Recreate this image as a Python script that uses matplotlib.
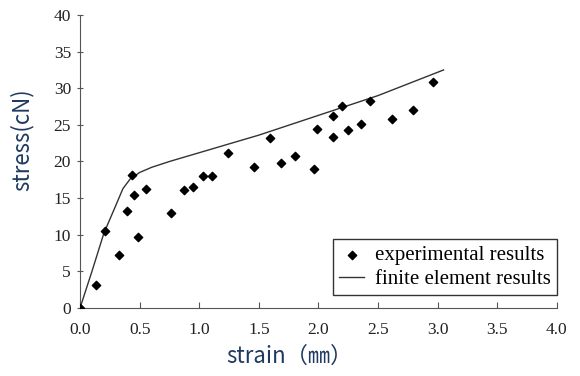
import matplotlib
matplotlib.use('Agg')
import matplotlib.pyplot as plt

# experimental results
exp_strain = [0.0, 0.13, 0.21, 0.33, 0.39, 0.44, 0.45, 0.49, 0.55, 0.76, 0.87, 0.945,
              1.03, 1.11, 1.24, 1.46, 1.59, 1.69, 1.80, 1.96, 1.99, 2.12, 2.12, 2.20,
              2.245, 2.36, 2.43, 2.62, 2.79, 2.96]
exp_stress = [0.0, 3.1, 10.5, 7.2, 13.2, 18.2, 15.4, 9.7, 16.2, 13.0, 16.1, 16.5,
              18.0, 18.0, 21.2, 19.2, 23.2, 19.75, 20.8, 19.0, 24.5, 26.2, 23.3, 27.6,
              24.3, 25.1, 28.3, 25.8, 27.0, 30.8]

# finite element results
fe_strain = [0.0, 0.1, 0.2, 0.3, 0.36, 0.42, 0.5, 0.6, 0.75, 1.0, 1.25, 1.5, 2.0, 2.5, 3.05]
fe_stress = [0.0, 5.0, 10.2, 14.0, 16.3, 17.6, 18.5, 19.2, 20.0, 21.2, 22.4, 23.6, 26.3, 29.0, 32.5]

xticks = [0.0, 0.5, 1.0, 1.5, 2.0, 2.5, 3.0, 3.5, 4.0]
yticks = [0, 5, 10, 15, 20, 25, 30, 35, 40]

fig = plt.figure(figsize=(5.8, 3.76), dpi=100)
ax = fig.add_axes([0.138, 0.181, 0.822, 0.779])

ax.plot(fe_strain, fe_stress, color='#333333', lw=1.0, label='finite element results')
ax.scatter(exp_strain, exp_stress, marker='D', s=18, color='black', zorder=3,
           label='experimental results')

ax.set_xlim(0, 4.0)
ax.set_ylim(0, 40)
ax.set_xticks(xticks)
ax.set_xticklabels(['%.1f' % v for v in xticks])
ax.set_yticks(yticks)
for lab in ax.get_xticklabels() + ax.get_yticklabels():
    lab.set_family('Liberation Serif')
    lab.set_fontsize(12.5)
    lab.set_color('#222222')
ax.tick_params(axis='x', direction='in', length=4, pad=10, color='#555555')
ax.tick_params(axis='y', direction='inout', length=5, pad=4, color='#555555')
ax.spines['top'].set_visible(False)
ax.spines['right'].set_visible(False)
ax.spines['left'].set_color('#555555')
ax.spines['bottom'].set_color('#555555')

ax.set_xlabel('strain（㎜）', family=['Noto Sans CJK SC', 'DejaVu Sans'],
              fontsize=16, color='#1F3A60')
ax.set_ylabel('stress(cN)', family=['Noto Sans CJK SC', 'DejaVu Sans'],
              fontsize=16, color='#1F3A60')
ax.xaxis.set_label_coords(0.44, -0.125)
ax.yaxis.set_label_coords(-0.097, 0.573)

handles, labels = ax.get_legend_handles_labels()
leg = ax.legend(handles[::-1], labels[::-1], loc='lower right',
                bbox_to_anchor=(1.0, 0.044), frameon=True, fancybox=False,
                prop={'family': 'Liberation Serif', 'size': 15},
                handlelength=1.2, handletextpad=0.5, borderpad=0.3, labelspacing=0.2,
                borderaxespad=0.0)
leg.get_frame().set_edgecolor('black')
leg.get_frame().set_linewidth(1.0)

fig.savefig('out.png', dpi=100)
